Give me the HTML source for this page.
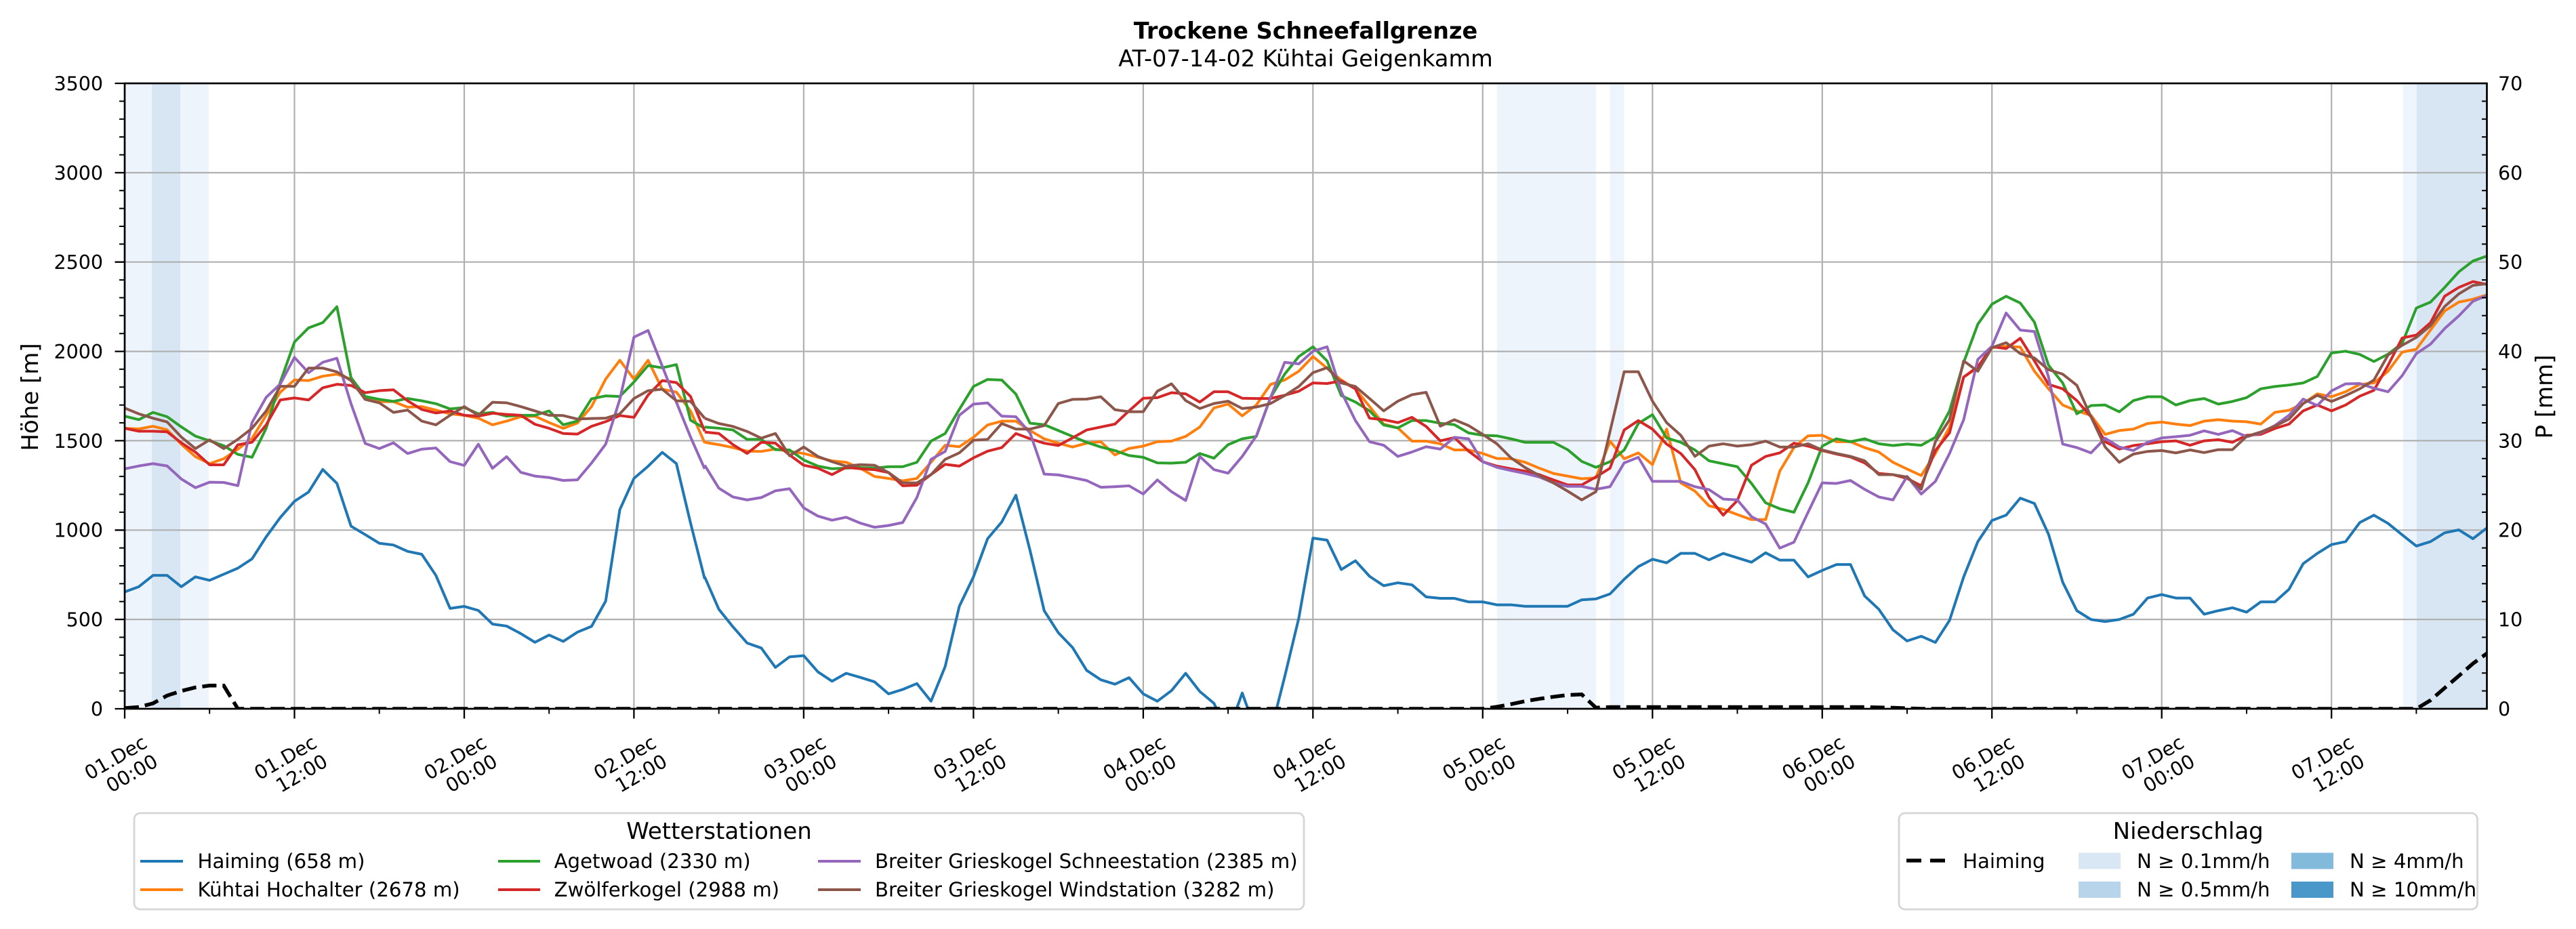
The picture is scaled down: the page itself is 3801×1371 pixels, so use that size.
<!DOCTYPE html>
<html><head><meta charset="utf-8"><style>
html,body{margin:0;padding:0;background:#fff;}
svg{display:block;}
text{font-family:"DejaVu Sans","Liberation Sans",sans-serif;fill:#000;}
.tk{font-size:28.5px;}
.lg{font-size:29.2px;}
.ser{fill:none;stroke-width:4;stroke-linejoin:round;vector-effect:non-scaling-stroke;}
</style></head><body>
<svg width="3801" height="1371" viewBox="0 0 3801 1371" xmlns="http://www.w3.org/2000/svg">
<defs><clipPath id="pa"><rect x="184" y="123" width="3485.5" height="923"/></clipPath></defs>
<rect x="0" y="0" width="3801" height="1371" fill="#fff"/>

<!-- precipitation bands -->
<g>
<rect x="184" y="123" width="40" height="923" fill="#eef4fb"/>
<rect x="224" y="123" width="42" height="923" fill="#d8e6f3"/>
<rect x="266" y="123" width="42" height="923" fill="#eef4fb"/>
<rect x="2208.7" y="123" width="146.1" height="923" fill="#eef4fb"/>
<rect x="2375.7" y="123" width="20.8" height="923" fill="#eef4fb"/>
<rect x="3545.7" y="123" width="20.3" height="923" fill="#eef4fb"/>
<rect x="3566" y="123" width="103.5" height="923" fill="#d8e6f3"/>
</g>

<!-- grid -->
<g stroke="#b0b0b0" stroke-width="2.2" fill="none">
<path d="M434.5,123V1046M685,123V1046M935.4,123V1046M1185.9,123V1046M1436.4,123V1046M1686.9,123V1046M1937.3,123V1046M2187.8,123V1046M2438.3,123V1046M2688.8,123V1046M2939.2,123V1046M3189.7,123V1046M3440.2,123V1046"/>
<path d="M184,914.1H3669.5M184,782.3H3669.5M184,650.4H3669.5M184,518.6H3669.5M184,386.7H3669.5M184,254.9H3669.5"/>
</g>

<g clip-path="url(#pa)">
<!-- chunk A: h0..h41 -->
<g transform="translate(184,380) scale(20.873,0.4273)">
<polyline class="ser" stroke="#1f77b4" points="0,1155 1,1137 2,1098 3,1098 4,1137 5,1103 6,1115 7,1094 8,1073 9,1041 10,965 11,898 12,842 13,810 14,732 15,780 16,928 17,957 18,987 19,993 20,1015 21,1025 22,1098 23,1212 24,1205 25,1219 26,1266 27,1273 28,1299 29,1329 30,1304 31,1326 32,1294 33,1274 34,1187 35,871 36,763 37,721 38,673 39,712 40,917 41,1110"/>
<polyline class="ser" stroke="#ff7f0e" points="0,590 1,592 2,583 3,595 4,645 5,688 6,712 7,695 8,662 9,625 10,545 11,465 12,423 13,425 14,410 15,403 16,420 17,490 18,498 19,498 20,517 21,515 22,527 23,540 24,545 25,555 26,578 27,565 28,550 29,548 30,570 31,590 32,572 33,515 34,420 35,355 36,420 37,355 38,455 39,465 40,530 41,640"/>
<polyline class="ser" stroke="#2ca02c" points="0,548 1,560 2,535 3,550 4,585 5,617 6,633 7,650 8,680 9,690 10,590 11,430 12,292 13,243 14,225 15,170 16,415 17,480 18,490 19,497 20,487 21,495 22,505 23,523 24,518 25,540 26,535 27,548 28,545 29,545 30,530 31,578 32,565 33,488 34,478 35,480 36,430 37,373 38,381 39,370 40,562 41,590"/>
<polyline class="ser" stroke="#d62728" points="0,590 1,600 2,600 3,602 4,640 5,672 6,716 7,716 8,647 9,638 10,578 11,492 12,485 13,492 14,450 15,438 16,442 17,467 18,460 19,457 20,495 21,525 22,537 23,530 24,545 25,548 26,538 27,542 28,545 29,576 30,590 31,608 32,610 33,583 34,567 35,546 36,552 37,475 38,425 39,432 40,480 41,600"/>
<polyline class="ser" stroke="#9467bd" points="0,730 1,720 2,712 3,720 4,765 5,795 6,776 7,777 8,788 9,570 10,483 11,437 12,345 13,398 14,362 15,348 16,505 17,642 18,660 19,640 20,677 21,662 22,658 23,705 24,718 25,645 26,728 27,688 28,742 29,755 30,760 31,770 32,768 33,710 34,645 35,490 36,275 37,252 38,375 39,500 40,620 41,730"/>
<polyline class="ser" stroke="#8c564b" points="0,520 1,540 2,555 3,568 4,620 5,660 6,630 7,660 8,628 9,590 10,530 11,445 12,445 13,382 14,382 15,395 16,425 17,490 18,502 19,535 20,527 21,565 22,578 23,545 24,515 25,545 26,500 27,502 28,515 29,530 30,545 31,546 32,558 33,556 34,555 35,540 36,487 37,460 38,455 39,495 40,497 41,555"/>
</g>
<!-- chunks B-D: h41..h167 -->
<g transform="translate(184,370) scale(20.873,0.43367)">
<polyline class="ser" stroke="#1f77b4" points="41,1110 42,1220 43,1280 44,1335 45,1352 46,1418 47,1382 48,1378 49,1433 50,1465 51,1438 52,1452 53,1467 54,1508 55,1493 56,1473 57,1533 58,1415 59,1210 60,1110 61,980 62,923 63,832 64,1020 65,1225 66,1300 67,1350 68,1428 69,1460 70,1475 71,1453 72,1508 73,1533 74,1497 75,1438 76,1500 77,1540 78,1640 79,1505 80,1640 81,1640 82,1450 83,1250 84,978 85,985 86,1085 87,1055 88,1108 89,1140 90,1130 91,1137 92,1178 93,1183 94,1183 95,1195 96,1195 97,1205 98,1205 99,1210 100,1210 101,1210 102,1210 103,1188 104,1185 105,1168 106,1118 107,1075 108,1050 109,1062 110,1030 111,1030 112,1052 113,1030 114,1045 115,1060 116,1028 117,1053 118,1053 119,1110 120,1088 121,1068 122,1068 123,1175 124,1220 125,1290 126,1328 127,1312 128,1333 129,1258 130,1110 131,990 132,918 133,900 134,842 135,860 136,965 137,1128 138,1225 139,1255 140,1262 141,1255 142,1237 143,1182 144,1170 145,1182 146,1182 147,1237 148,1225 149,1215 150,1230 151,1195 152,1195 153,1152 154,1065 155,1030 156,1000 157,990 158,925 159,900 160,928 161,967 162,1005 163,990 164,960 165,950 166,980 167,943"/>
<polyline class="ser" stroke="#ff7f0e" points="41,652 42,660 43,670 44,682 45,683 46,675 47,683 48,690 49,703 50,715 51,720 52,740 53,768 54,775 55,783 56,775 57,720 58,662 59,667 60,635 61,593 62,580 63,580 64,612 65,640 66,655 67,668 68,655 69,650 70,695 71,673 72,665 73,650 74,648 75,632 76,600 77,535 78,522 79,562 80,525 81,455 82,440 83,410 84,360 85,400 86,440 87,470 88,530 89,590 90,603 91,648 92,648 93,657 94,678 95,678 96,690 97,707 98,708 99,720 100,740 101,758 102,767 103,776 104,773 105,648 106,708 107,688 108,728 109,607 110,790 111,818 112,868 113,880 114,898 115,915 116,915 117,750 118,670 119,630 120,628 121,650 122,650 123,670 124,685 125,720 126,743 127,765 128,690 129,600 130,430 131,398 132,330 133,325 134,328 135,410 136,470 137,525 138,545 139,560 140,625 141,612 142,607 143,588 144,583 145,590 146,595 147,580 148,575 149,580 150,582 151,590 152,550 153,543 154,520 155,487 156,497 157,480 158,455 159,450 160,410 161,345 162,335 163,270 164,205 165,175 166,165 167,150"/>
<polyline class="ser" stroke="#2ca02c" points="41,600 42,604 43,610 44,642 45,642 46,677 47,678 48,712 49,733 50,742 51,740 52,738 53,740 54,735 55,735 56,720 57,648 58,622 59,540 60,462 61,438 62,440 63,488 64,587 65,592 66,612 67,632 68,652 69,668 70,680 71,697 72,703 73,722 74,723 75,720 76,690 77,706 78,660 79,640 80,632 81,500 82,420 83,360 84,327 85,375 86,493 87,515 88,545 89,593 90,603 91,578 92,578 93,587 94,592 95,620 96,628 97,630 98,640 99,652 100,652 101,652 102,677 103,717 104,737 105,718 106,678 107,588 108,558 109,637 110,652 111,678 112,715 113,725 114,735 115,792 116,858 117,878 118,890 119,790 120,665 121,640 122,650 123,640 124,657 125,663 126,658 127,662 128,635 129,545 130,380 131,250 132,182 133,155 134,178 135,243 136,390 137,450 138,555 139,527 140,525 141,548 142,510 143,497 144,497 145,525 146,510 147,503 148,522 149,513 150,500 151,470 152,462 153,457 154,450 155,428 156,348 157,342 158,353 159,377 160,352 161,315 162,195 163,175 164,125 165,72 166,35 167,18"/>
<polyline class="ser" stroke="#d62728" points="41,617 42,622 43,660 44,690 45,652 46,655 47,695 48,730 49,740 50,762 51,737 52,742 53,745 54,755 55,800 56,798 57,762 58,727 59,733 60,705 61,682 62,670 63,622 64,640 65,655 66,663 67,637 68,610 69,600 70,590 71,545 72,502 73,500 74,483 75,487 76,515 77,480 78,480 79,502 80,503 81,503 82,492 83,478 84,450 85,452 86,443 87,470 88,570 89,575 90,585 91,567 92,598 93,647 94,636 95,682 96,718 97,733 98,742 99,750 100,762 101,780 102,797 103,797 104,770 105,740 106,610 107,578 108,607 109,658 110,690 111,745 112,840 113,900 114,850 115,730 116,700 117,688 118,655 119,665 120,680 121,692 122,702 123,722 124,758 125,762 126,775 127,800 128,680 129,620 130,430 131,395 132,327 133,333 134,298 135,375 136,455 137,470 138,510 139,565 140,650 141,675 142,663 143,657 144,650 145,647 146,662 147,647 148,643 149,652 150,628 151,625 152,605 153,590 154,545 155,525 156,545 157,525 158,495 159,475 160,390 161,297 162,287 163,245 164,155 165,125 166,105 167,115"/>
<polyline class="ser" stroke="#9467bd" points="41,730 42,808 43,838 44,848 45,840 46,817 47,810 48,875 49,903 50,917 51,907 52,927 53,941 54,935 55,925 56,840 57,710 58,683 59,560 60,522 61,518 62,563 63,565 64,620 65,760 66,763 67,772 68,782 69,805 70,803 71,800 72,828 73,780 74,820 75,850 76,700 77,745 78,757 79,700 80,630 81,500 82,380 83,385 84,342 85,327 86,480 87,578 88,650 89,662 90,700 91,685 92,667 93,675 94,635 95,640 96,718 97,737 98,748 99,758 100,770 101,790 102,802 103,802 104,812 105,803 106,722 107,703 108,785 109,785 110,785 111,803 112,813 113,845 114,848 115,905 116,930 117,1012 118,992 119,890 120,790 121,792 122,782 123,812 124,838 125,848 126,768 127,828 128,785 129,690 130,575 131,370 132,325 133,212 134,270 135,275 136,430 137,658 138,670 139,688 140,638 141,668 142,680 143,652 144,637 145,633 146,628 147,613 148,625 149,612 150,633 151,620 152,595 153,560 154,505 155,527 156,477 157,453 158,452 159,468 160,480 161,425 162,350 163,318 164,265 165,222 166,172 167,152"/>
<polyline class="ser" stroke="#8c564b" points="41,570 42,588 43,598 44,615 45,638 46,622 47,698 48,668 49,700 50,718 51,733 52,728 53,730 54,755 55,790 56,790 57,762 58,710 59,688 60,645 61,642 62,588 63,607 64,607 65,595 66,520 67,506 68,505 69,497 70,541 71,548 72,548 73,478 74,453 75,510 76,537 77,520 78,512 79,537 80,532 81,520 82,493 83,462 84,415 85,398 86,450 87,462 88,503 89,545 90,512 91,490 92,482 93,597 94,575 95,595 96,625 97,657 98,705 99,738 100,765 101,790 102,818 103,848 104,820 105,615 106,412 107,412 108,512 109,585 110,628 111,700 112,665 113,657 114,665 115,660 116,648 117,668 118,668 119,657 120,678 121,690 122,700 123,715 124,762 125,762 126,770 127,812 128,650 129,575 130,375 131,410 132,330 133,313 134,350 135,365 136,405 137,420 138,458 139,565 140,668 141,720 142,692 143,683 144,680 145,688 146,678 147,687 148,677 149,677 150,632 151,617 152,597 153,573 154,520 155,492 156,513 157,493 158,470 159,440 160,355 161,322 162,295 163,255 164,190 165,147 166,118 167,112"/>
</g>
<!-- precipitation dashed -->
<polyline fill="none" stroke="#000" stroke-width="5.5" stroke-dasharray="21,9" points="184,1045 204.9,1043.5 225.7,1038 246.6,1026.5 267.5,1019.7 288.4,1014.5 309.2,1011.8 330.1,1011.8 351,1046 2187.8,1046 2208.7,1043.1 2229.6,1039.2 2250.4,1034.8 2271.3,1031.3 2292.2,1028.3 2313,1025.7 2333.9,1024.8 2354.8,1044.4 2375.7,1043.5 2751,1043.5 2793,1044.5 2835,1046 3565.4,1046 3586.3,1033.5 3607.2,1015.3 3628,997.5 3648.9,979.3 3669.8,964.1"/>
</g>

<!-- spines -->
<rect x="184" y="123" width="3485.5" height="923" fill="none" stroke="#000" stroke-width="2.7"/>

<!-- ticks -->
<g stroke="#000" stroke-width="2.3" fill="none">
<path d="M169.5,1046H184M169.5,914.1H184M169.5,782.3H184M169.5,650.4H184M169.5,518.6H184M169.5,386.7H184M169.5,254.9H184M169.5,123H184"/>
<path stroke-width="2" d="M176,1019.6H184M176,993.3H184M176,966.9H184M176,940.5H184M176,887.7H184M176,861.4H184M176,835H184M176,808.6H184M176,755.9H184M176,729.5H184M176,703.1H184M176,676.8H184M176,624H184M176,597.7H184M176,571.3H184M176,544.9H184M176,492.2H184M176,465.8H184M176,439.4H184M176,413.1H184M176,360.3H184M176,334H184M176,307.6H184M176,281.2H184M176,228.5H184M176,202.1H184M176,175.7H184M176,149.4H184"/>
<path stroke-width="2" d="M3662,1019.6H3669.5M3662,993.3H3669.5M3662,966.9H3669.5M3662,940.5H3669.5M3662,887.7H3669.5M3662,861.4H3669.5M3662,835H3669.5M3662,808.6H3669.5M3662,755.9H3669.5M3662,729.5H3669.5M3662,703.1H3669.5M3662,676.8H3669.5M3662,624H3669.5M3662,597.7H3669.5M3662,571.3H3669.5M3662,544.9H3669.5M3662,492.2H3669.5M3662,465.8H3669.5M3662,439.4H3669.5M3662,413.1H3669.5M3662,360.3H3669.5M3662,334H3669.5M3662,307.6H3669.5M3662,281.2H3669.5M3662,228.5H3669.5M3662,202.1H3669.5M3662,175.7H3669.5M3662,149.4H3669.5"/>
<path d="M184,1046V1060.5M434.5,1046V1060.5M685,1046V1060.5M935.4,1046V1060.5M1185.9,1046V1060.5M1436.4,1046V1060.5M1686.9,1046V1060.5M1937.3,1046V1060.5M2187.8,1046V1060.5M2438.3,1046V1060.5M2688.8,1046V1060.5M2939.2,1046V1060.5M3189.7,1046V1060.5M3440.2,1046V1060.5"/>
<path stroke-width="2" d="M309.2,1046V1053.5M559.7,1046V1053.5M810.2,1046V1053.5M1060.7,1046V1053.5M1311.1,1046V1053.5M1561.6,1046V1053.5M1812.1,1046V1053.5M2062.6,1046V1053.5M2313.1,1046V1053.5M2563.5,1046V1053.5M2814,1046V1053.5M3064.5,1046V1053.5M3315,1046V1053.5M3565.4,1046V1053.5"/>
</g>

<!-- y tick labels -->
<g class="tk" text-anchor="end">
<text x="152" y="1056.4">0</text>
<text x="152" y="924.5">500</text>
<text x="152" y="792.7">1000</text>
<text x="152" y="660.8">1500</text>
<text x="152" y="529">2000</text>
<text x="152" y="397.1">2500</text>
<text x="152" y="265.3">3000</text>
<text x="152" y="133.4">3500</text>
</g>
<g class="tk" text-anchor="start">
<text x="3686" y="1056.4">0</text>
<text x="3686" y="924.5">10</text>
<text x="3686" y="792.7">20</text>
<text x="3686" y="660.8">30</text>
<text x="3686" y="529">40</text>
<text x="3686" y="397.1">50</text>
<text x="3686" y="265.3">60</text>
<text x="3686" y="133.4">70</text>
</g>

<!-- x tick labels -->
<g class="tk" text-anchor="end">
<text transform="translate(219.1,1101.5) rotate(-30)"><tspan x="0" y="0">01.Dec</tspan><tspan x="0" y="32.1">00:00</tspan></text>
<text transform="translate(469.6,1101.5) rotate(-30)"><tspan x="0" y="0">01.Dec</tspan><tspan x="0" y="32.1">12:00</tspan></text>
<text transform="translate(720.1,1101.5) rotate(-30)"><tspan x="0" y="0">02.Dec</tspan><tspan x="0" y="32.1">00:00</tspan></text>
<text transform="translate(970.5,1101.5) rotate(-30)"><tspan x="0" y="0">02.Dec</tspan><tspan x="0" y="32.1">12:00</tspan></text>
<text transform="translate(1221,1101.5) rotate(-30)"><tspan x="0" y="0">03.Dec</tspan><tspan x="0" y="32.1">00:00</tspan></text>
<text transform="translate(1471.5,1101.5) rotate(-30)"><tspan x="0" y="0">03.Dec</tspan><tspan x="0" y="32.1">12:00</tspan></text>
<text transform="translate(1722,1101.5) rotate(-30)"><tspan x="0" y="0">04.Dec</tspan><tspan x="0" y="32.1">00:00</tspan></text>
<text transform="translate(1972.4,1101.5) rotate(-30)"><tspan x="0" y="0">04.Dec</tspan><tspan x="0" y="32.1">12:00</tspan></text>
<text transform="translate(2222.9,1101.5) rotate(-30)"><tspan x="0" y="0">05.Dec</tspan><tspan x="0" y="32.1">00:00</tspan></text>
<text transform="translate(2473.4,1101.5) rotate(-30)"><tspan x="0" y="0">05.Dec</tspan><tspan x="0" y="32.1">12:00</tspan></text>
<text transform="translate(2723.9,1101.5) rotate(-30)"><tspan x="0" y="0">06.Dec</tspan><tspan x="0" y="32.1">00:00</tspan></text>
<text transform="translate(2974.3,1101.5) rotate(-30)"><tspan x="0" y="0">06.Dec</tspan><tspan x="0" y="32.1">12:00</tspan></text>
<text transform="translate(3224.8,1101.5) rotate(-30)"><tspan x="0" y="0">07.Dec</tspan><tspan x="0" y="32.1">00:00</tspan></text>
<text transform="translate(3475.3,1101.5) rotate(-30)"><tspan x="0" y="0">07.Dec</tspan><tspan x="0" y="32.1">12:00</tspan></text>
</g>

<!-- axis labels -->
<text transform="translate(56,586) rotate(-90)" text-anchor="middle" style="font-size:34px">Höhe [m]</text>
<text transform="translate(3766,585.5) rotate(-90)" text-anchor="middle" style="font-size:34px">P [mm]</text>

<!-- titles -->
<text x="1926.5" y="57" text-anchor="middle" style="font-size:33.5px;font-weight:bold">Trockene Schneefallgrenze</text>
<text x="1926.5" y="98" text-anchor="middle" style="font-size:33.5px">AT-07-14-02 Kühtai Geigenkamm</text>

<!-- left legend -->
<rect x="198" y="1200" width="1726" height="142" rx="9" ry="9" fill="#fff" stroke="#d6d6d6" stroke-width="2.8"/>
<text x="1061" y="1238" text-anchor="middle" style="font-size:34px">Wetterstationen</text>
<g stroke-width="4">
<line x1="207" y1="1271" x2="270" y2="1271" stroke="#1f77b4"/>
<line x1="207" y1="1313" x2="270" y2="1313" stroke="#ff7f0e"/>
<line x1="735" y1="1271" x2="797" y2="1271" stroke="#2ca02c"/>
<line x1="735" y1="1313" x2="797" y2="1313" stroke="#d62728"/>
<line x1="1207" y1="1271" x2="1270" y2="1271" stroke="#9467bd"/>
<line x1="1207" y1="1313" x2="1270" y2="1313" stroke="#8c564b"/>
</g>
<g class="lg">
<text x="291.5" y="1281">Haiming (658 m)</text>
<text x="291.5" y="1323">Kühtai Hochalter (2678 m)</text>
<text x="817.6" y="1281">Agetwoad (2330 m)</text>
<text x="817.6" y="1323">Zwölferkogel (2988 m)</text>
<text x="1291" y="1281">Breiter Grieskogel Schneestation (2385 m)</text>
<text x="1291" y="1323">Breiter Grieskogel Windstation (3282 m)</text>
</g>

<!-- right legend -->
<rect x="2802" y="1200" width="853.5" height="142" rx="9" ry="9" fill="#fff" stroke="#d6d6d6" stroke-width="2.8"/>
<text x="3228.7" y="1238" text-anchor="middle" style="font-size:34px">Niederschlag</text>
<line x1="2813" y1="1270" x2="2870" y2="1270" stroke="#000" stroke-width="5.5" stroke-dasharray="22,13"/>
<rect x="3067" y="1258.5" width="62" height="24" fill="#d9e7f5"/>
<rect x="3067" y="1301" width="62" height="24" fill="#b8d4ea"/>
<rect x="3381" y="1258.5" width="62" height="24" fill="#82badb"/>
<rect x="3381" y="1301" width="62" height="24" fill="#4a97c9"/>
<g class="lg">
<text x="2896" y="1281">Haiming</text>
<text x="3153" y="1281">N ≥ 0.1mm/h</text>
<text x="3153" y="1323">N ≥ 0.5mm/h</text>
<text x="3467" y="1281">N ≥ 4mm/h</text>
<text x="3467" y="1323">N ≥ 10mm/h</text>
</g>
</svg>
</body></html>
